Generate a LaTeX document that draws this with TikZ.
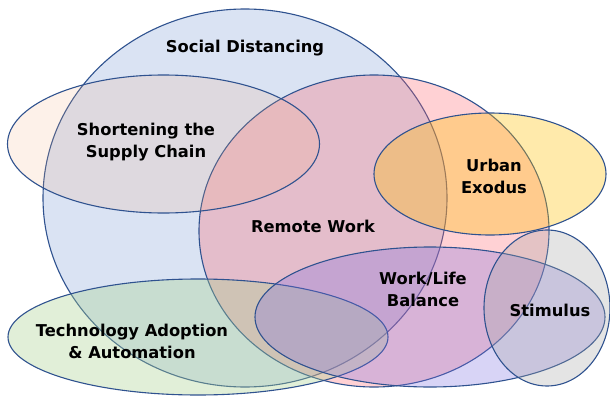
\documentclass[tikz,border=0pt]{standalone}
\usepackage{fontspec}
\setmainfont{DejaVu Sans}
\usetikzlibrary{shapes.geometric}

% theme colours
\definecolor{edge}{HTML}{2F528F}
\definecolor{cblue}{HTML}{4472C4}
\definecolor{cpink}{HTML}{FF6670}
\definecolor{cpeach}{HTML}{F4B183}
\definecolor{cyellow}{HTML}{FFC000}
\definecolor{cgreen}{HTML}{A9D18E}
\definecolor{cpurple}{HTML}{7F6FE0}
\definecolor{cgrey}{HTML}{A5A5A5}

\tikzset{
  bubble/.style={ellipse, draw=edge, line width=1.1pt, inner sep=0pt},
  lbl/.style={font=\bfseries\fontsize{16.3}{22.5}\selectfont, align=center, text=black, inner sep=0pt},
}

\begin{document}
\begin{tikzpicture}[x=1pt, y=-1pt]
  \useasboundingbox (0,0) rectangle (610,396);

  % overlapping themes, back to front
  \node[bubble, fill=cblue, fill opacity=0.2,
        minimum width=404pt, minimum height=378pt] (social) at (245,198) {};
  \node[bubble, fill=cpink, fill opacity=0.3,
        minimum width=350pt, minimum height=312pt] (remote) at (374,231) {};
  \node[bubble, fill=cpeach, fill opacity=0.18,
        minimum width=312pt, minimum height=138pt] (supply) at (163.5,144) {};
  \node[bubble, fill=cyellow, fill opacity=0.33,
        minimum width=232pt, minimum height=122pt] (urban) at (490,174) {};
  \node[bubble, fill=cgreen, fill opacity=0.35,
        minimum width=380pt, minimum height=116pt] (tech) at (198,337) {};
  \node[bubble, fill=cpurple, fill opacity=0.3,
        minimum width=350pt, minimum height=140pt] (balance) at (430,317) {};
  \node[bubble, fill=cgrey, fill opacity=0.3,
        minimum width=126pt, minimum height=156pt] (stimulus) at (547,308) {};

  % labels
  \node[lbl] (tsocial) at (245,48) {Social Distancing};
  \node[lbl] (tsupply) at (146,142) {Shortening the\\Supply Chain};
  \node[lbl] (turban) at (494,176.5) {Urban\\Exodus};
  \node[lbl] (tremote) at (313,226) {Remote Work};
  \node[lbl] (tbalance) at (423,289.5) {Work/Life\\Balance};
  \node[lbl] (tstimulus) at (550,310) {Stimulus};
  \node[lbl] (ttech) at (132,341.5) {Technology Adoption\\\& Automation};
\end{tikzpicture}
\end{document}
